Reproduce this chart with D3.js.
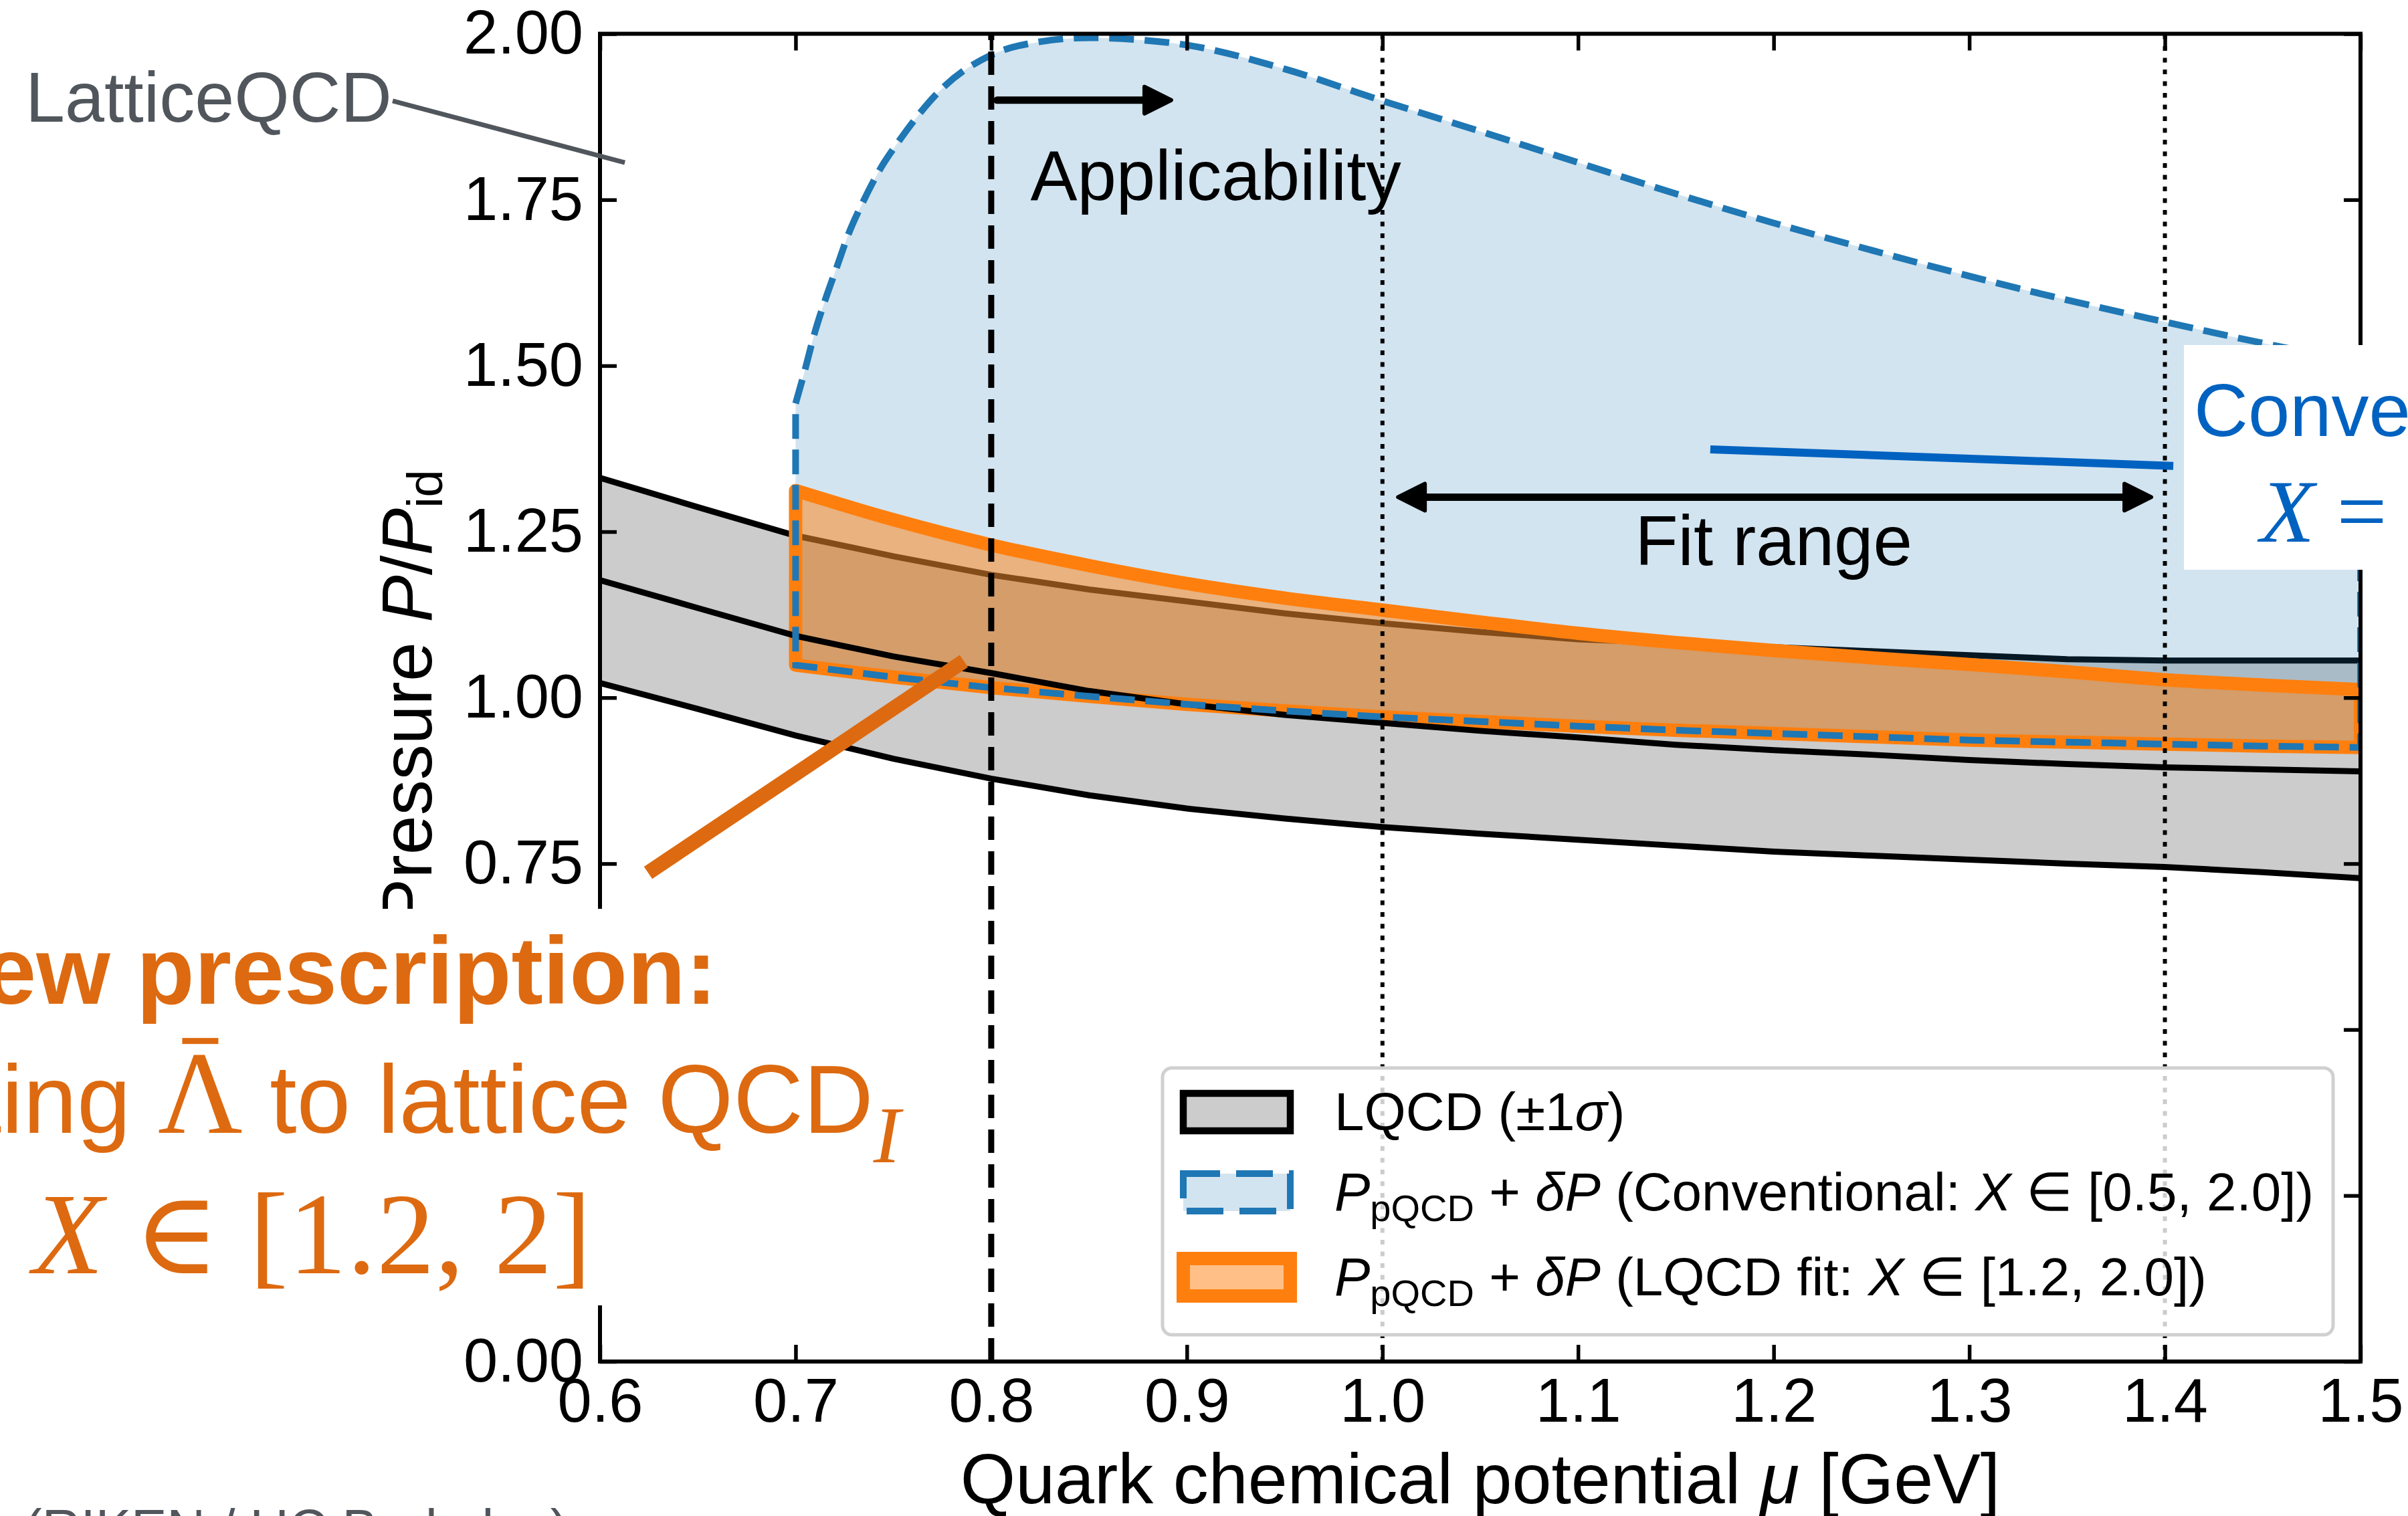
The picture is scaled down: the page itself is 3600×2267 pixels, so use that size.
<!DOCTYPE html>
<html>
<head>
<meta charset="utf-8">
<script src="https://cdn.jsdelivr.net/npm/d3@7"></script>
<style>
  html, body { margin: 0; padding: 0; background: #fff; }
  svg { display: block; }
  text { font-family: "Liberation Sans", Arial, sans-serif; }
</style>
</head>
<body>
<svg id="chart" width="3600" height="2267"></svg>
<script>
//--------------------------------------------------------------------------------
// data
//--------------------------------------------------------------------------------
const muGrid = [0.60, 0.65, 0.70, 0.75, 0.80, 0.85, 0.90, 0.95, 1.00, 1.05,
                1.10, 1.15, 1.20, 1.25, 1.30, 1.35, 1.40, 1.45, 1.50];
const lqcdUpper   = [1.331, 1.287, 1.244, 1.213, 1.185, 1.163, 1.145, 1.127, 1.112, 1.099,
                     1.088, 1.082, 1.076, 1.070, 1.064, 1.058, 1.056, 1.056, 1.056];
const lqcdCentral = [1.177, 1.135, 1.093, 1.062, 1.037, 1.010, 0.990, 0.974, 0.962, 0.950,
                     0.940, 0.929, 0.921, 0.914, 0.906, 0.900, 0.895, 0.892, 0.889];
const lqcdLower   = [1.022, 0.983, 0.943, 0.908, 0.878, 0.853, 0.833, 0.818, 0.805, 0.795,
                     0.786, 0.777, 0.768, 0.762, 0.756, 0.750, 0.745, 0.737, 0.728];

   // conventional pQCD band, upper edge (sampled more densely near the steep start)
const convUpperMu = [0.700, 0.704, 0.710, 0.715, 0.721, 0.727, 0.735, 0.744, 0.752, 0.775,
                     0.800, 0.825, 0.850, 0.875, 0.900, 0.950, 1.000, 1.050, 1.100, 1.150,
                     1.200, 1.250, 1.300, 1.350, 1.400, 1.450, 1.500];
const convUpper   = [1.443, 1.485, 1.552, 1.598, 1.648, 1.698, 1.750, 1.800, 1.835, 1.918,
                     1.968, 1.988, 1.994, 1.991, 1.983, 1.947, 1.899, 1.853, 1.806, 1.759,
                     1.715, 1.674, 1.635, 1.599, 1.566, 1.534, 1.505];

const bandMu    = [0.70, 0.75, 0.80, 0.85, 0.90, 0.95, 1.00, 1.05, 1.10, 1.15,
                   1.20, 1.25, 1.30, 1.35, 1.40, 1.45, 1.50];
const convLower = [1.049, 1.031, 1.015, 1.002, 0.990, 0.980, 0.971, 0.964, 0.957, 0.951,
                   0.946, 0.941, 0.936, 0.933, 0.930, 0.927, 0.925];
const fitUpper  = [1.312, 1.268, 1.230, 1.199, 1.172, 1.150, 1.132, 1.114, 1.097, 1.083,
                   1.071, 1.060, 1.050, 1.039, 1.027, 1.019, 1.012];
const fitLower  = convLower;

const xTicks = [0.6, 0.7, 0.8, 0.9, 1.0, 1.1, 1.2, 1.3, 1.4, 1.5];
const xTickLabels = ["0.6", "0.7", "0.8", "0.9", "1.0", "1.1", "1.2", "1.3", "1.4", "1.5"];
const yTicks = [0, 0.25, 0.5, 0.75, 1.0, 1.25, 1.5, 1.75, 2.0];
const yTickLabels = ["0.00", "0.25", "0.50", "0.75", "1.00", "1.25", "1.50", "1.75", "2.00"];

const applicabilityMu = 0.8;          // dashed line
const fitRangeMu = [1.0, 1.4];        // dotted lines

   // annotation anchors, in data coordinates (mu, P/Pid)
const applicabilityArrow = [[0.803, 1.90], [0.892, 1.90]];
const applicabilityText  = [0.820, 1.75];
const fitArrow     = [[1.008, 1.302], [1.393, 1.302]];
const fitText      = [1.200, 1.200];
const latticeLeader = [[0.494, 1.899], [0.6127, 1.806]];
const convLeader    = [[1.1676, 1.374], [1.4043, 1.349]];
const orangeArrow   = [[0.6246, 0.7363], [0.7860, 1.0550]];

//--------------------------------------------------------------------------------
const W = 3600, H = 2267;
const plot = {left: 897, right: 3529, top: 50.5, bottom: 2036};

const blue = "#1f77b4", orange = "#ff7f0e", noteOrange = "#dd6a10",
      noteBlue = "#0062c0", noteGray = "#50565c";
const serif = '"Liberation Serif", "DejaVu Serif", serif';

const svg = d3.select("#chart");
svg.append("rect").attr("width", W).attr("height", H).attr("fill", "#fff");

svg.append("defs").append("clipPath").attr("id", "plotClip")
   .append("rect").attr("x", plot.left).attr("y", plot.top)
   .attr("width", plot.right - plot.left).attr("height", plot.bottom - plot.top);

const x = d3.scaleLinear().domain([0.6, 1.5]).range([plot.left, plot.right]);
const y = d3.scaleLinear().domain([0, 2]).range([plot.bottom, plot.top]);

const zip = (xs, ys) => xs.map((m, i) => [m, ys[i]]);
const lineLin = d3.line().x(d => x(d[0])).y(d => y(d[1]));
const lineSmooth = d3.line().x(d => x(d[0])).y(d => y(d[1])).curve(d3.curveMonotoneX);

function bandPath(upperPts, lowerPts, upperGen) {
   var up = upperGen(upperPts);
   var lo = lineLin(lowerPts.slice().reverse());
   return up + "L" + lo.slice(1) + "Z";
}

const inner = svg.append("g").attr("clip-path", "url(#plotClip)");

//--------------------------------------------------------------------------------
// LQCD band
//--------------------------------------------------------------------------------
const lqcdPts = muGrid.map((m, i) => ({mu: m, lo: lqcdLower[i], hi: lqcdUpper[i]}));
inner.append("path")
   .attr("d", d3.area().x(d => x(d.mu)).y0(d => y(d.lo)).y1(d => y(d.hi))(lqcdPts))
   .attr("fill", "#cccccc");

[lqcdUpper, lqcdLower].forEach(function(vals){
   inner.append("path").attr("d", lineLin(zip(muGrid, vals)))
      .attr("fill", "none").attr("stroke", "#000").attr("stroke-width", 9);
   });

//--------------------------------------------------------------------------------
// pQCD bands
//--------------------------------------------------------------------------------
const convPath = bandPath(zip(convUpperMu, convUpper), zip(bandMu, convLower), lineSmooth);
const fitPath  = bandPath(zip(bandMu, fitUpper), zip(bandMu, fitLower), lineSmooth);

inner.append("path").attr("d", convPath)
   .attr("fill", blue).attr("fill-opacity", 0.2).attr("stroke", "none");

inner.append("path").attr("d", fitPath)
   .attr("fill", orange).attr("fill-opacity", 0.5)
   .attr("stroke", orange).attr("stroke-width", 20).attr("stroke-linejoin", "round");

   // central LQCD line sits above the fit band
inner.append("path").attr("d", lineLin(zip(muGrid, lqcdCentral)))
   .attr("fill", "none").attr("stroke", "#000").attr("stroke-width", 9);

inner.append("path").attr("d", convPath)
   .attr("fill", "none").attr("stroke", blue).attr("stroke-width", 10)
   .attr("stroke-dasharray", "37,16");

//--------------------------------------------------------------------------------
// reference lines
//--------------------------------------------------------------------------------
inner.append("line")
   .attr("x1", x(applicabilityMu)).attr("x2", x(applicabilityMu))
   .attr("y1", y(0)).attr("y2", y(2))
   .attr("stroke", "#000").attr("stroke-width", 9).attr("stroke-dasharray", "35,17");

fitRangeMu.forEach(function(m){
   inner.append("line")
      .attr("x1", x(m)).attr("x2", x(m)).attr("y1", y(0)).attr("y2", y(2))
      .attr("stroke", "#000").attr("stroke-width", 6).attr("stroke-dasharray", "7,10.5");
   });

//--------------------------------------------------------------------------------
// axes
//--------------------------------------------------------------------------------
function styleAxis(g) {
   g.select(".domain").remove();
   g.selectAll(".tick line").attr("stroke", "#000").attr("stroke-width", 5.5);
   g.selectAll(".tick text").attr("fill", "#000")
    .style("font-family", '"Liberation Sans", Arial, sans-serif').style("font-size", "92px");
}

svg.append("g").attr("transform", "translate(0," + plot.bottom + ")")
   .call(d3.axisBottom(x).tickValues(xTicks).tickFormat((d, i) => xTickLabels[i])
          .tickSize(-25).tickPadding(25).tickSizeOuter(0))
   .call(styleAxis);

svg.append("g").attr("transform", "translate(" + plot.left + ",0)")
   .call(d3.axisLeft(y).tickValues(yTicks).tickFormat((d, i) => yTickLabels[i])
          .tickSize(-25).tickPadding(25).tickSizeOuter(0))
   .call(styleAxis);

svg.append("g").attr("transform", "translate(0," + plot.top + ")")
   .call(d3.axisTop(x).tickValues(xTicks).tickFormat("").tickSize(-25).tickSizeOuter(0))
   .call(styleAxis);

svg.append("g").attr("transform", "translate(" + plot.right + ",0)")
   .call(d3.axisRight(y).tickValues(yTicks).tickFormat("").tickSize(-25).tickSizeOuter(0))
   .call(styleAxis);

svg.append("rect")
   .attr("x", plot.left).attr("y", plot.top)
   .attr("width", plot.right - plot.left).attr("height", plot.bottom - plot.top)
   .attr("fill", "none").attr("stroke", "#000").attr("stroke-width", 6);

   // axis labels
var xl = svg.append("text")
   .attr("x", (plot.left + plot.right) / 2).attr("y", 2248)
   .attr("text-anchor", "middle").attr("font-size", 106).attr("fill", "#000");
xl.append("tspan").text("Quark chemical potential ");
xl.append("tspan").attr("font-style", "italic").text("\u03bc");
xl.append("tspan").text(" [GeV]");

var yl = svg.append("text")
   .attr("transform", "translate(645," + (plot.top + plot.bottom) / 2 + ") rotate(-90)")
   .attr("text-anchor", "middle").attr("font-size", 106).attr("fill", "#000");
yl.append("tspan").text("Pressure ");
yl.append("tspan").attr("font-style", "italic").text("P");
yl.append("tspan").text("/");
yl.append("tspan").attr("font-style", "italic").text("P");
yl.append("tspan").attr("font-size", 74).attr("dy", 16).text("id");

//--------------------------------------------------------------------------------
// arrows and annotations inside the plot
//--------------------------------------------------------------------------------
function arrowHead(tipX, tipY, dirX, dirY, len, half, color) {
   var n = Math.hypot(dirX, dirY), ux = dirX / n, uy = dirY / n;
   var bx = tipX - ux * len, by = tipY - uy * len;
   var pts = [[tipX, tipY], [bx - uy * half, by + ux * half], [bx + uy * half, by - ux * half]];
   svg.append("path").attr("d", "M" + pts.join("L") + "Z")
      .attr("fill", color).attr("stroke", color).attr("stroke-width", 6)
      .attr("stroke-linejoin", "round");
}

function drawArrow(pts, opts) {
   var x1 = x(pts[0][0]), y1 = y(pts[0][1]), x2 = x(pts[1][0]), y2 = y(pts[1][1]);
   var dx = x2 - x1, dy = y2 - y1, n = Math.hypot(dx, dy), ux = dx / n, uy = dy / n;
   var back = opts.len * 0.6;
   svg.append("line")
      .attr("x1", x1 + (opts.both ? ux * back : 0)).attr("y1", y1 + (opts.both ? uy * back : 0))
      .attr("x2", x2 - ux * back).attr("y2", y2 - uy * back)
      .attr("stroke", opts.color).attr("stroke-width", opts.width)
      .attr("stroke-linecap", "round");
   arrowHead(x2, y2, dx, dy, opts.len, opts.half, opts.color);
   if (opts.both) arrowHead(x1, y1, -dx, -dy, opts.len, opts.half, opts.color);
}

drawArrow(applicabilityArrow, {color: "#000", width: 11, len: 40, half: 20});
drawArrow(fitArrow, {color: "#000", width: 11, len: 40, half: 20, both: true});

svg.append("text")
   .attr("x", x(applicabilityText[0])).attr("y", y(applicabilityText[1]))
   .attr("font-size", 105).attr("fill", "#000").text("Applicability");

svg.append("text")
   .attr("x", x(fitText[0])).attr("y", y(fitText[1])).attr("text-anchor", "middle")
   .attr("font-size", 105).attr("fill", "#000").text("Fit range");

//--------------------------------------------------------------------------------
// legend
//--------------------------------------------------------------------------------
const legend = svg.append("g");
legend.append("rect")
   .attr("x", 1738).attr("y", 1597).attr("width", 1750).attr("height", 399)
   .attr("rx", 14).attr("fill", "#fff").attr("fill-opacity", 0.8)
   .attr("stroke", "#d0d0d0").attr("stroke-width", 5);

const legendRows = [
   {cy: 1663, fill: "#cccccc", stroke: "#000", sw: 10.5, dash: null},
   {cy: 1783, fill: "rgba(31,119,180,0.2)", stroke: blue, sw: 10, dash: "55,24"},
   {cy: 1910, fill: "rgba(255,127,14,0.5)", stroke: orange, sw: 20, dash: null}
];
legendRows.forEach(function(r){
   legend.append("rect")
      .attr("x", 1769).attr("y", r.cy - 28).attr("width", 160).attr("height", 56)
      .attr("fill", r.fill).attr("stroke", r.stroke).attr("stroke-width", r.sw)
      .attr("stroke-dasharray", r.dash);
   });

function legendText(cy) {
   return legend.append("text").attr("x", 1995).attr("y", cy + 27)
      .attr("font-size", 80).attr("fill", "#000");
}
var t0 = legendText(legendRows[0].cy);
t0.append("tspan").text("LQCD (\u00b11");
t0.append("tspan").attr("font-style", "italic").text("\u03c3");
t0.append("tspan").text(")");

[["Conventional", "[0.5, 2.0])"], ["LQCD fit", "[1.2, 2.0])"]].forEach(function(parts, k){
   var t = legendText(legendRows[k + 1].cy);
   t.append("tspan").attr("font-style", "italic").text("P");
   t.append("tspan").attr("font-size", 56).attr("dy", 16).text("pQCD");
   t.append("tspan").attr("dy", -16).text(" + ");
   t.append("tspan").attr("font-style", "italic").text("\u03b4P");
   t.append("tspan").text(" (" + parts[0] + ": ");
   t.append("tspan").attr("font-style", "italic").text("X");
   t.append("tspan").text(" \u2208 " + parts[1]);
   });

//--------------------------------------------------------------------------------
// slide overlays
//--------------------------------------------------------------------------------
   // LatticeQCD label with leader
svg.append("text").attr("x", 38).attr("y", 182)
   .attr("font-size", 106).attr("fill", noteGray).text("LatticeQCD");
svg.append("path").attr("d", lineLin(latticeLeader))
   .attr("stroke", noteGray).attr("stroke-width", 7).attr("fill", "none");

   // conventional call-out box
svg.append("rect").attr("x", 3265).attr("y", 516).attr("width", 400).attr("height", 336)
   .attr("fill", "#fff");
svg.append("text").attr("x", 3280).attr("y", 652)
   .attr("font-size", 112).attr("fill", noteBlue).text("Conventional");
var cx = svg.append("text").attr("x", 3379).attr("y", 810)
   .attr("font-size", 133).attr("fill", noteBlue).style("font-family", serif);
cx.append("tspan").attr("font-style", "italic").text("X");
cx.append("tspan").text(" = 0.5\u20132");
svg.append("path").attr("d", lineLin(convLeader))
   .attr("stroke", noteBlue).attr("stroke-width", 12).attr("fill", "none");

   // orange pointer (plain thick stroke)
svg.append("path").attr("d", lineLin(orangeArrow))
   .attr("stroke", noteOrange).attr("stroke-width", 22).attr("fill", "none");

   // new-prescription block (white panel hides the lower left of the axis)
svg.append("rect").attr("x", 0).attr("y", 1359).attr("width", 1420).attr("height", 593)
   .attr("fill", "#fff");

svg.append("text").attr("x", 1072).attr("y", 1501).attr("text-anchor", "end")
   .attr("font-size", 142).attr("font-weight", "bold").attr("fill", noteOrange)
   .text("New prescription:");

var l2 = svg.append("text").attr("x", 1346).attr("y", 1694).attr("text-anchor", "end")
   .attr("font-size", 145).attr("fill", noteOrange);
l2.append("tspan").text("Fitting ");
l2.append("tspan").attr("font-size", 175).style("font-family", serif).text("\u039b");
l2.append("tspan").text(" to lattice QCD");
l2.append("tspan").attr("font-size", 121).attr("font-style", "italic").attr("dy", 44)
   .style("font-family", serif).text("I");

   // bar over Lambda, placed from the glyph's own extent
(function(){
   var ext = l2.node().getExtentOfChar(8);
   var cxm = ext.x + ext.width / 2;
   svg.append("rect")
      .attr("x", cxm - 27).attr("y", 1694 - 0.662 * 175 - 26)
      .attr("width", 54).attr("height", 9).attr("fill", noteOrange);
})();

var l3 = svg.append("text").attr("x", 49).attr("y", 1904)
   .attr("font-size", 173).attr("fill", noteOrange).style("font-family", serif)
   .attr("textLength", 835).attr("lengthAdjust", "spacing");
l3.append("tspan").attr("font-style", "italic").text("X");
l3.append("tspan").text(" \u2208 [1.2, 2]");

   // credit line, mostly below the frame
svg.append("text").attr("x", 36).attr("y", 2313)
   .attr("font-size", 80).attr("fill", noteGray).text("(RIKEN / UC Berkeley)");
</script>
</body>
</html>
